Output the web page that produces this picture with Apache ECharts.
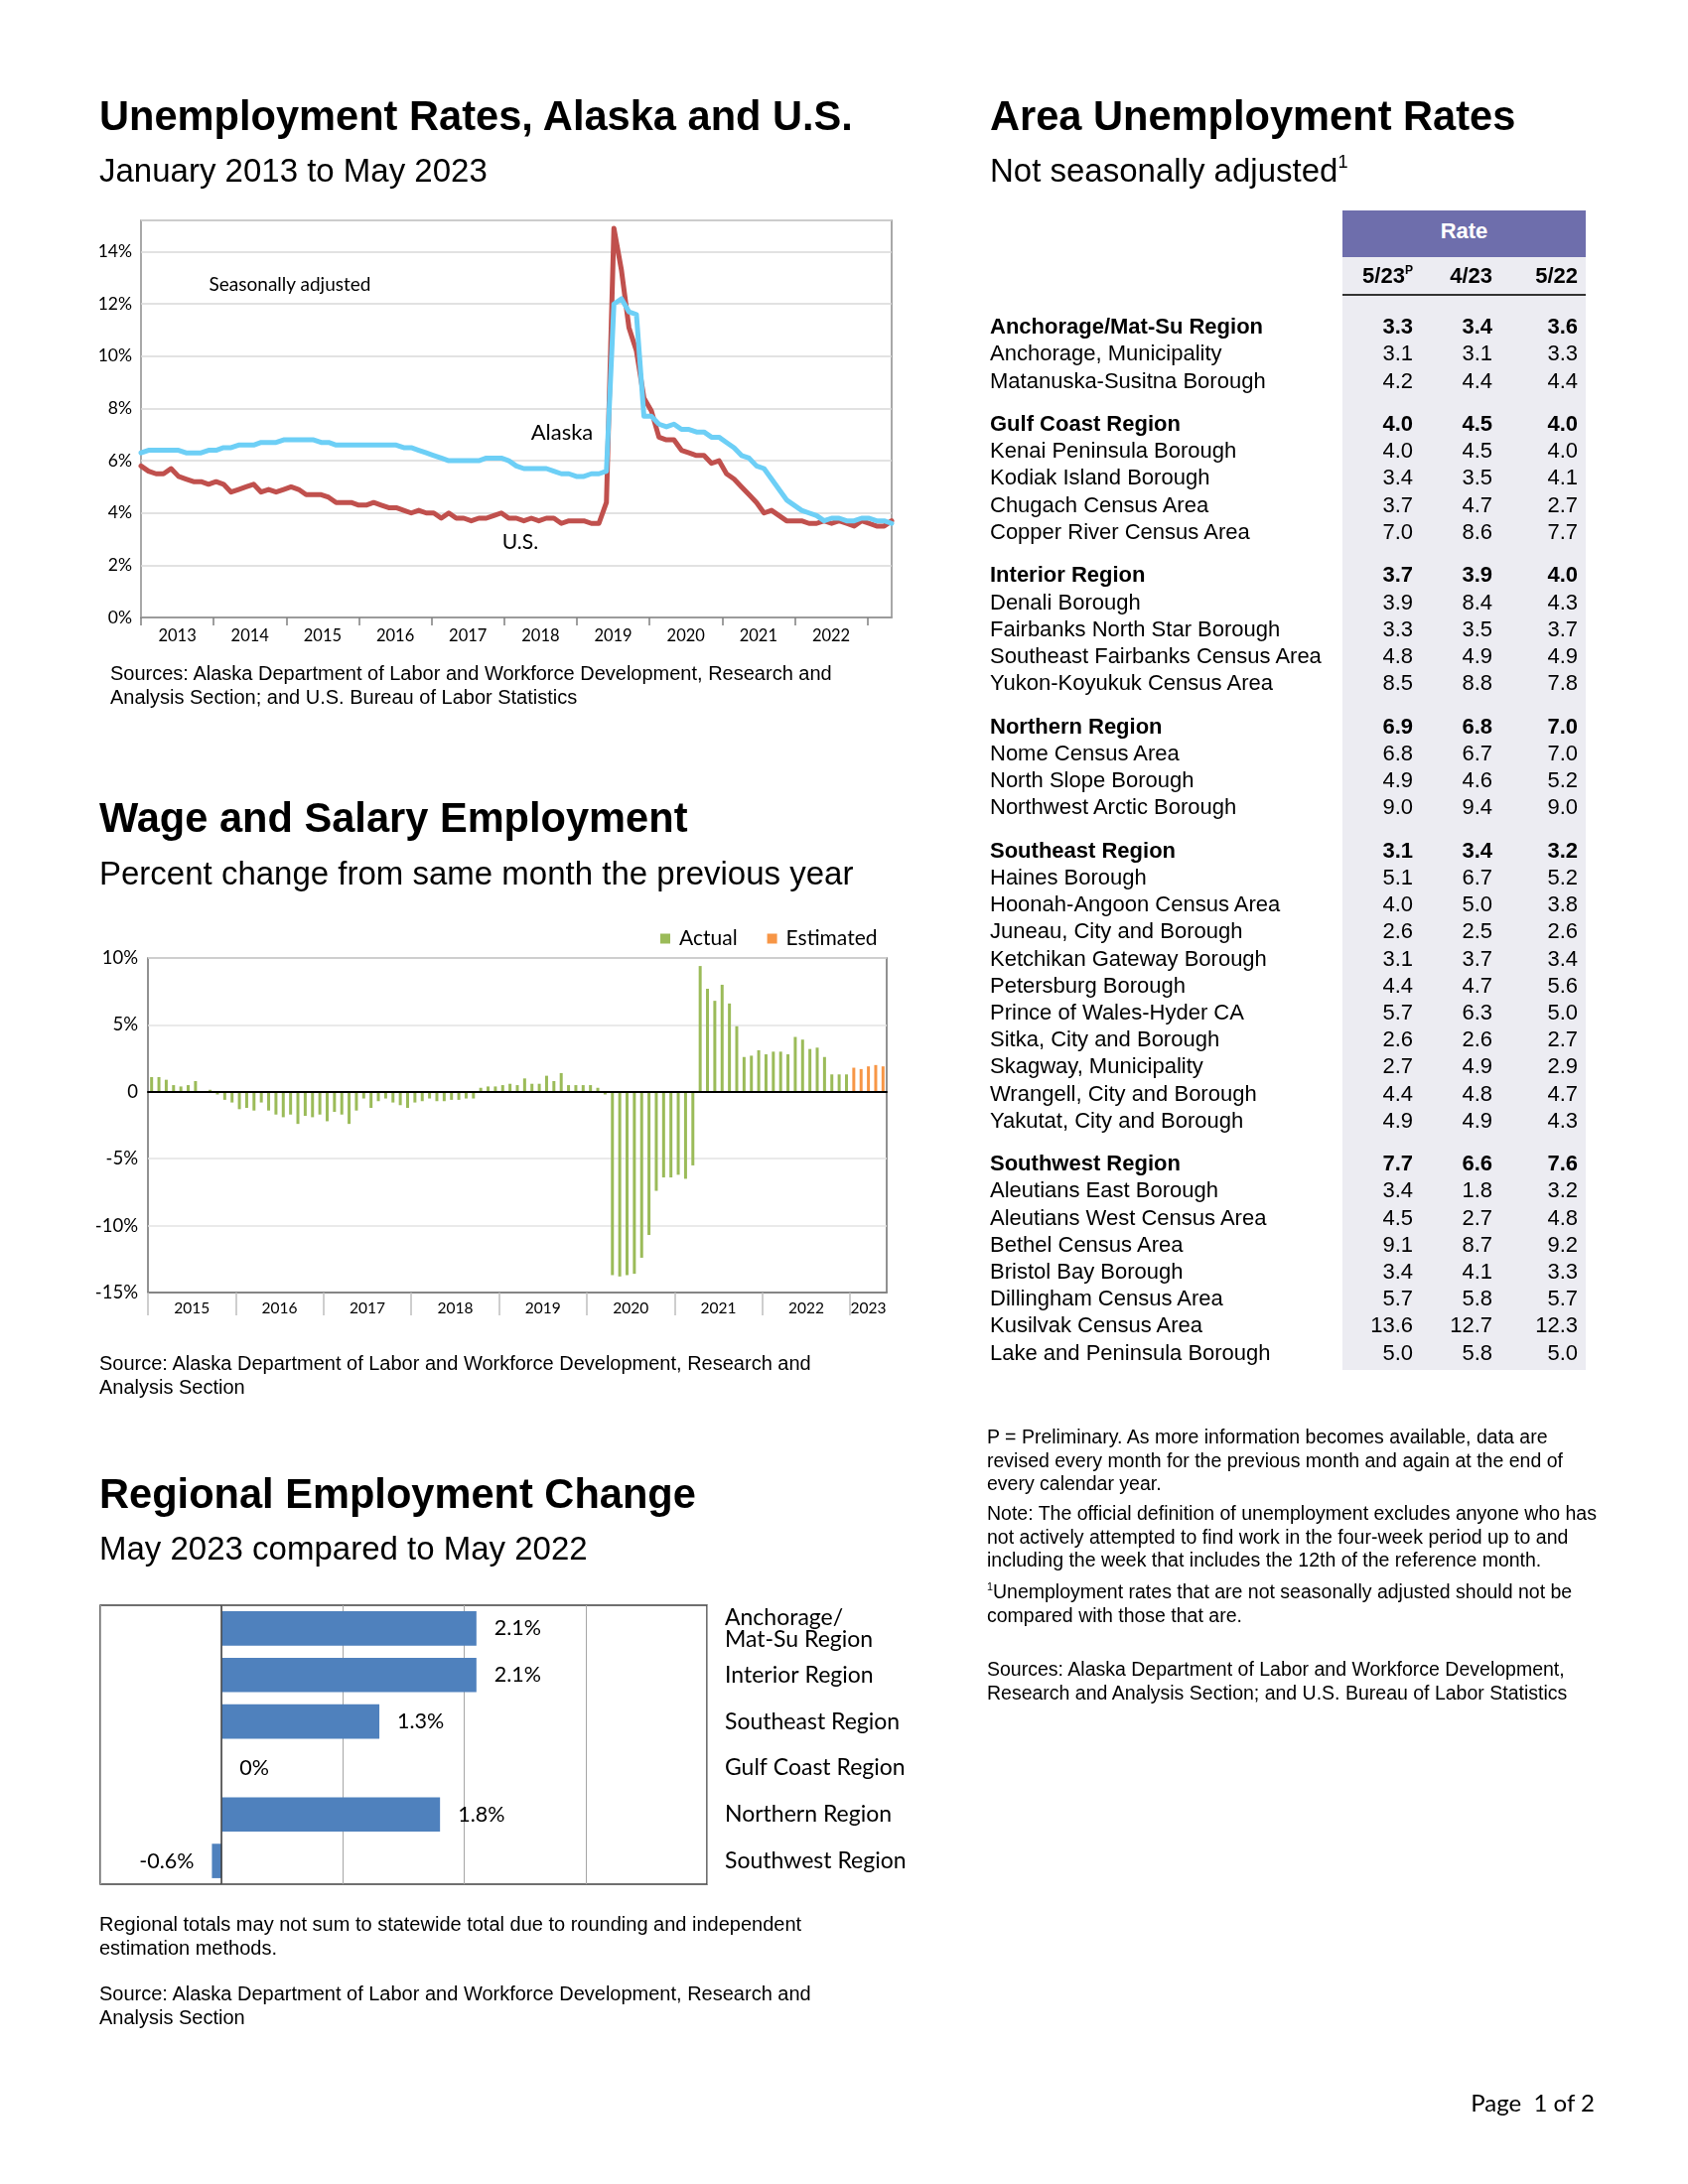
<!DOCTYPE html>
<html><head><meta charset="utf-8">
<script src="https://cdn.jsdelivr.net/npm/echarts@6.0.0/dist/echarts.min.js"></script>
<style>
html,body{margin:0;padding:0;background:#fff;}
#page{position:relative;width:1700px;height:2200px;overflow:hidden;font-family:"Liberation Sans",Arial,sans-serif;color:#000;}
#chart{position:absolute;left:0;top:0;width:1700px;height:2200px;}
.abs{position:absolute;white-space:nowrap;}
.title{font-weight:bold;font-size:41.6px;line-height:41.6px;}
.sub{font-size:33px;line-height:33px;}
.note{font-size:19.5px;line-height:23.5px;}
.lnote{font-size:20px;line-height:23.5px;}
.ann{font-family:Lato,sans-serif;line-height:1;transform:translate(-50%,-50%);color:#000;}
sup{font-size:0.55em;line-height:0;vertical-align:0.75em;}
.cell{position:absolute;white-space:nowrap;font-size:22px;line-height:22px;}
.num{width:90px;text-align:right;}
</style></head>
<body><div id="page"><div id="chart"></div>
<div class="abs title" style="left:100px;top:96px;">Unemployment Rates, Alaska and U.S.</div>
<div class="abs sub" style="left:100px;top:155px;">January 2013 to May 2023</div>
<div class="abs lnote" style="left:111px;top:667px;">Sources: Alaska Department of Labor and Workforce Development, Research and<br>Analysis Section; and U.S. Bureau of Labor Statistics</div>
<div class="abs ann" style="left:292px;top:285px;font-size:19px;">Seasonally adjusted</div>
<div class="abs ann" style="left:566px;top:435px;font-size:22px;">Alaska</div>
<div class="abs ann" style="left:524px;top:544px;font-size:21px;">U.S.</div>

<div class="abs title" style="left:100px;top:803px;">Wage and Salary Employment</div>
<div class="abs sub" style="left:100px;top:863px;">Percent change from same month the previous year</div>
<div class="abs lnote" style="left:100px;top:1362px;">Source: Alaska Department of Labor and Workforce Development, Research and<br>Analysis Section</div>

<div class="abs title" style="left:100px;top:1484px;">Regional Employment Change</div>
<div class="abs sub" style="left:100px;top:1543px;">May 2023 compared to May 2022</div>
<div class="abs lnote" style="left:100px;top:1927px;">Regional totals may not sum to statewide total due to rounding and independent<br>estimation methods.</div>
<div class="abs lnote" style="left:100px;top:1997px;">Source: Alaska Department of Labor and Workforce Development, Research and<br>Analysis Section</div>

<div class="abs title" style="left:997px;top:96px;">Area Unemployment Rates</div>
<div class="abs sub" style="left:997px;top:155px;">Not seasonally adjusted<sup>1</sup></div>
<div id="table"></div>
<div class="abs note" style="left:994px;top:1436px;">P = Preliminary. As more information becomes available, data are<br>revised every month for the previous month and again at the end of<br>every calendar year.</div>
<div class="abs note" style="left:994px;top:1513px;">Note: The official definition of unemployment excludes anyone who has<br>not actively attempted to find work in the four-week period up to and<br>including the week that includes the 12th of the reference month.</div>
<div class="abs note" style="left:994px;top:1592px;"><sup>1</sup>Unemployment rates that are not seasonally adjusted should not be<br>compared with those that are.</div>
<div class="abs note" style="left:994px;top:1670px;">Sources: Alaska Department of Labor and Workforce Development,<br>Research and Analysis Section; and U.S. Bureau of Labor Statistics</div>
<div class="abs" style="right:94px;top:2104px;font-family:Lato,sans-serif;font-size:24px;line-height:28px;">Page&nbsp; 1 of 2</div>
</div>
<script>
// ---------- Unemployment rates (monthly, seasonally adjusted) ----------
const unempStartYear = 2015;
const akRate = [
6.3,6.4,6.4,6.4,6.4,6.4,6.3,6.3,6.3,6.4,6.4,6.5,
6.5,6.6,6.6,6.6,6.7,6.7,6.7,6.8,6.8,6.8,6.8,6.8,
6.7,6.7,6.6,6.6,6.6,6.6,6.6,6.6,6.6,6.6,6.6,6.5,
6.5,6.4,6.3,6.2,6.1,6.0,6.0,6.0,6.0,6.0,6.1,6.1,
6.1,6.0,5.8,5.7,5.7,5.7,5.7,5.6,5.5,5.5,5.4,5.4,
5.5,5.5,5.6,12.0,12.2,11.7,11.6,7.7,7.7,7.4,7.3,7.4,
7.2,7.2,7.1,7.1,6.9,6.9,6.7,6.5,6.2,6.1,5.8,5.7,
5.3,4.9,4.5,4.3,4.1,4.0,3.9,3.7,3.8,3.8,3.7,3.7,
3.8,3.8,3.7,3.7,3.6];
const usRate = [
5.8,5.6,5.5,5.5,5.7,5.4,5.3,5.2,5.2,5.1,5.2,5.1,
4.8,4.9,5.0,5.1,4.8,4.9,4.8,4.9,5.0,4.9,4.7,4.7,
4.7,4.6,4.4,4.4,4.4,4.3,4.3,4.4,4.3,4.2,4.2,4.1,
4.0,4.1,4.0,4.0,3.8,4.0,3.8,3.8,3.7,3.8,3.8,3.9,
4.0,3.8,3.8,3.7,3.8,3.7,3.8,3.8,3.6,3.7,3.7,3.7,
3.6,3.6,4.4,14.9,13.3,11.1,10.2,8.4,7.9,6.9,6.8,6.8,
6.4,6.3,6.2,6.2,5.9,6.0,5.5,5.3,5.0,4.7,4.4,4.0,
4.1,3.9,3.7,3.7,3.7,3.6,3.6,3.7,3.6,3.7,3.6,3.5,
3.7,3.6,3.5,3.5,3.7];
const unempYearLabels = ['2013','2014','2015','2016','2017','2018','2019','2020','2021','2022'];
const unempSlots = 125;

// ---------- Wage and salary employment, % change ----------
const wageStartYear = 2015;
const wageActual = [
1.1,1.1,0.9,0.5,0.4,0.5,0.8,0.0,0.15,-0.2,-0.6,-0.8,
-1.3,-1.2,-1.4,-0.8,-1.4,-1.7,-1.9,-1.7,-2.4,-1.8,-1.9,-1.7,
-2.2,-1.5,-1.7,-2.4,-1.4,-0.5,-1.2,-0.7,-0.5,-0.8,-1.0,-1.2,
-0.8,-0.7,-0.5,-0.7,-0.7,-0.6,-0.6,-0.5,-0.5,0.3,0.4,0.4,
0.5,0.6,0.5,1.0,0.6,0.6,1.2,0.8,1.4,0.5,0.5,0.5,
0.5,0.3,-0.2,-13.7,-13.8,-13.7,-13.6,-12.4,-10.7,-7.4,-6.4,-6.4,
-6.2,-6.5,-5.5,9.4,7.7,6.8,8.0,6.6,4.9,2.6,2.7,3.1,
2.8,3.0,3.0,2.8,4.1,3.9,3.2,3.3,2.6,1.3,1.3,1.3];
const wageEstimated = [1.8,1.7,1.9,2.0,1.9];
const wageYearLabels = ['2015','2016','2017','2018','2019','2020','2021','2022','2023'];

// ---------- Regional employment change ----------
const regionNames = ['Anchorage/\nMat-Su Region','Interior Region','Southeast Region','Gulf Coast Region','Northern Region','Southwest Region'];
const regionBarValues = [2.1, 2.1, 1.3, 0, 1.8, -0.08];
const regionBarLabels = ['2.1%','2.1%','1.3%','0%','1.8%','-0.6%'];

// ---------- Area unemployment rates table ----------
const areaNames = ['Anchorage/Mat-Su Region','Anchorage, Municipality','Matanuska-Susitna Borough',
'Gulf Coast Region','Kenai Peninsula Borough','Kodiak Island Borough','Chugach Census Area','Copper River Census Area',
'Interior Region','Denali Borough','Fairbanks North Star Borough','Southeast Fairbanks Census Area','Yukon-Koyukuk Census Area',
'Northern Region','Nome Census Area','North Slope Borough','Northwest Arctic Borough',
'Southeast Region','Haines Borough','Hoonah-Angoon Census Area','Juneau, City and Borough','Ketchikan Gateway Borough','Petersburg Borough','Prince of Wales-Hyder CA','Sitka, City and Borough','Skagway, Municipality','Wrangell, City and Borough','Yakutat, City and Borough',
'Southwest Region','Aleutians East Borough','Aleutians West Census Area','Bethel Census Area','Bristol Bay Borough','Dillingham Census Area','Kusilvak Census Area','Lake and Peninsula Borough'];
const rateMay23 = [3.3,3.1,4.2, 4.0,4.0,3.4,3.7,7.0, 3.7,3.9,3.3,4.8,8.5, 6.9,6.8,4.9,9.0, 3.1,5.1,4.0,2.6,3.1,4.4,5.7,2.6,2.7,4.4,4.9, 7.7,3.4,4.5,9.1,3.4,5.7,13.6,5.0];
const rateApr23 = [3.4,3.1,4.4, 4.5,4.5,3.5,4.7,8.6, 3.9,8.4,3.5,4.9,8.8, 6.8,6.7,4.6,9.4, 3.4,6.7,5.0,2.5,3.7,4.7,6.3,2.6,4.9,4.8,4.9, 6.6,1.8,2.7,8.7,4.1,5.8,12.7,5.8];
const rateMay22 = [3.6,3.3,4.4, 4.0,4.0,4.1,2.7,7.7, 4.0,4.3,3.7,4.9,7.8, 7.0,7.0,5.2,9.0, 3.2,5.2,3.8,2.6,3.4,5.6,5.0,2.7,2.9,4.7,4.3, 7.6,3.2,4.8,9.2,3.3,5.7,12.3,5.0];
const regionRowIdx = [0,3,8,13,17,28];
const tableHeads = ['5/23<sup>P</sup>','4/23','5/22'];

// ---------- build table ----------
(function(){
  const t = document.getElementById('table');
  const L = 1352, W = 245;
  let h = '';
  h += `<div class="abs" style="left:${L}px;top:212px;width:${W}px;height:47px;background:#6E6EAC;"></div>`;
  h += `<div class="cell" style="left:${L}px;top:222px;width:${W}px;text-align:center;color:#fff;font-weight:bold;">Rate</div>`;
  h += `<div class="abs" style="left:${L}px;top:259px;width:${W}px;height:1121px;background:#ECECF2;"></div>`;
  h += `<div class="abs" style="left:${L}px;top:296px;width:${W}px;height:2px;background:#333;"></div>`;
  const colRight = [1423, 1503, 1589];
  tableHeads.forEach((s,k)=>{ h += `<div class="cell num" style="left:${colRight[k]-90}px;top:267px;font-weight:bold;">${s}</div>`; });
  const cols = [rateMay23, rateApr23, rateMay22];
  let g = -1;
  areaNames.forEach((name,i)=>{
    if (regionRowIdx.includes(i)) g++;
    const bold = regionRowIdx.includes(i) ? 'font-weight:bold;' : '';
    const cy = 331 + i*27.2 + g*16.3;
    const top = (cy - 12.9).toFixed(1);
    h += `<div class="cell" style="left:997px;top:${top}px;${bold}">${name}</div>`;
    cols.forEach((c,k)=>{ h += `<div class="cell num" style="left:${colRight[k]-90}px;top:${top}px;${bold}">${c[i].toFixed(1)}</div>`; });
  });
  t.innerHTML = h;
})();

// ---------- categories ----------
function monthList(startYear, n){ const a=[]; for(let i=0;i<n;i++){ const y=startYear+Math.floor(i/12), m=i%12+1; a.push(y+'-'+(m<10?'0':'')+m);} return a; }
const unempMonths = monthList(unempStartYear, akRate.length);
const unempAxisSlots = [];
for (let i=0;i<unempSlots;i++){ const k=(i-6)/12; unempAxisSlots.push((i%12===6 && k<unempYearLabels.length) ? unempYearLabels[k] : ''); }
const wageN = wageActual.length + wageEstimated.length;
const wageMonths = monthList(wageStartYear, wageN);
const wageSlots = new Array(2*wageN+1).fill('');
wageYearLabels.forEach((y,k)=>{ const span=Math.min(12, wageN-12*k); wageSlots[24*k+span] = y; });
const actualData = wageActual.concat(wageEstimated.map(()=>null));
const estData = wageActual.map(()=>null).concat(wageEstimated);

const F = 'Lato';
const chart = echarts.init(document.getElementById('chart'));
chart.setOption({
  animation:false,
  grid:[
    {left:142, top:222, width:756, height:400, show:true, borderColor:'#8c8c8c', borderWidth:1.5},
    {left:149, top:965, width:744, height:337, show:true, borderColor:'#6e6e6e', borderWidth:1.5},
    {left:101, top:1617, width:611, height:281, show:true, borderColor:'#404040', borderWidth:1.5}
  ],
  legend:{data:['Actual','Estimated'], left:660, top:930, icon:'rect', itemWidth:10, itemHeight:10, itemGap:30,
    textStyle:{fontFamily:F, fontSize:21, color:'#000', padding:[0,0,0,4]}},
  xAxis:[
    {gridIndex:0, type:'category', data:unempMonths, boundaryGap:false, show:false},
    {gridIndex:0, type:'category', data:unempAxisSlots, boundaryGap:false, position:'bottom',
      axisLine:{show:true, onZero:false, lineStyle:{color:'#8c8c8c', width:1.5}},
      axisTick:{show:true, interval:(i)=>i%12===0, length:8, lineStyle:{color:'#7f7f7f', width:1.5}},
      axisLabel:{interval:(i,v)=>v!=='', margin:10, fontFamily:F, fontSize:16.5, color:'#000'}, splitLine:{show:false}},
    {gridIndex:1, type:'category', data:wageMonths, boundaryGap:true,
      axisLine:{show:true, onZero:true, lineStyle:{color:'#000', width:2}}, axisTick:{show:false}, axisLabel:{show:false}, z:5},
    {gridIndex:1, type:'category', data:wageSlots, boundaryGap:false, position:'bottom',
      axisLine:{show:true, onZero:false, lineStyle:{color:'#6e6e6e', width:1.5}},
      axisTick:{show:true, interval:(i)=>i%24===0, length:23, lineStyle:{color:'#bfbfbf', width:1.5}},
      axisLabel:{interval:(i,v)=>v!=='', margin:8, fontFamily:F, fontSize:15.5, color:'#000'}, splitLine:{show:false}},
    {gridIndex:2, type:'value', min:-1, max:4, interval:1, axisLabel:{show:false}, axisLine:{show:false}, axisTick:{show:false},
      splitLine:{show:true, lineStyle:{color:'#a6a6a6', width:1}}}
  ],
  yAxis:[
    {gridIndex:0, type:'value', min:0, max:15.2, interval:2, axisLine:{show:false}, axisTick:{show:false},
      axisLabel:{margin:9, fontFamily:F, fontSize:17.5, color:'#000', formatter:(v)=> (Math.abs(v%2)<1e-6 ? v+'%' : '')},
      splitLine:{lineStyle:{color:'#d9d9d9', width:1.5}}},
    {gridIndex:1, type:'value', min:-15, max:10, interval:5, axisLine:{show:false}, axisTick:{show:false},
      axisLabel:{margin:10, fontFamily:F, fontSize:18.5, color:'#000', formatter:(v)=> (v===0 ? '0' : v+'%')},
      splitLine:{lineStyle:{color:'#e3e3e3', width:1.5}}},
    {gridIndex:2, type:'category', data:regionNames, inverse:true, position:'right',
      axisLine:{show:false, onZero:false}, axisTick:{show:false},
      axisLabel:{interval:0, margin:18, fontFamily:F, fontSize:23, color:'#000', lineHeight:22.5, align:'left', padding:[12,0,0,0]}}
  ],
  series:[
    {type:'line', name:'U.S.', xAxisIndex:0, yAxisIndex:0, data:usRate, symbol:'none', z:2,
      lineStyle:{color:'#C0504D', width:5, join:'round', cap:'round'}},
    {type:'line', name:'Alaska', xAxisIndex:0, yAxisIndex:0, data:akRate, symbol:'none', z:3,
      lineStyle:{color:'#6DCFF6', width:5, join:'round', cap:'round'}},
    {type:'bar', name:'Actual', xAxisIndex:2, yAxisIndex:1, data:actualData, barWidth:3, barGap:'-100%', itemStyle:{color:'#9BBB59'}},
    {type:'bar', name:'Estimated', xAxisIndex:2, yAxisIndex:1, data:estData, barWidth:3, barGap:'-100%', itemStyle:{color:'#F79646'}},
    {type:'bar', name:'Regional', xAxisIndex:4, yAxisIndex:2, barCategoryGap:'26%', itemStyle:{color:'#4F81BD'},
      data: regionBarValues.map((v)=>({value:v, label:{position: v<0 ? 'left' : 'right'}})),
      label:{show:true, distance:18, fontFamily:F, fontSize:21.5, color:'#000', formatter:(p)=>regionBarLabels[p.dataIndex]},
      markLine:{silent:true, symbol:['none','none'], label:{show:false}, lineStyle:{color:'#404040', width:1.5, type:'solid'}, data:[{xAxis:0}]}}
  ]
});
</script></body></html>
